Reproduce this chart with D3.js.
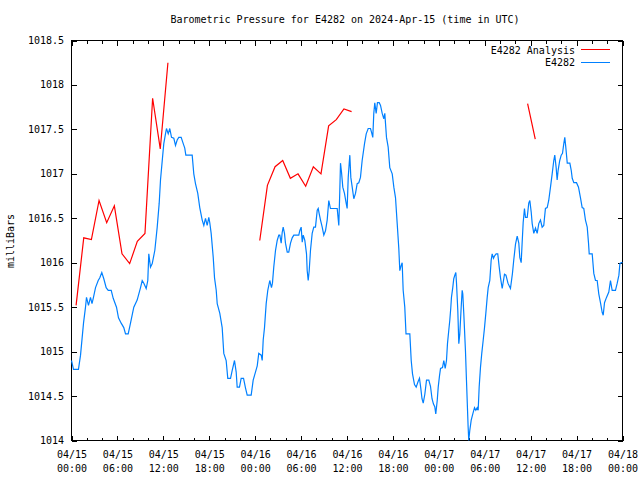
<!DOCTYPE html>
<html>
<head>
<meta charset="utf-8">
<script src="https://cdn.jsdelivr.net/npm/d3@7"></script>
<style>
  html, body { margin: 0; padding: 0; background: #fff; }
  svg { display: block; }
  text { font-family: "DejaVu Sans Mono", "Liberation Mono", monospace; font-size: 10px; fill: #000; }
</style>
</head>
<body>
<svg id="chart" width="640" height="480"></svg>
<script>
// ---- data (hours since 2024-04-15 00:00 UTC, millibars) ----
const titleText = "Barometric Pressure for E4282 on 2024-Apr-15 (time in UTC)";
const yTickValues = [1014, 1014.5, 1015, 1015.5, 1016, 1016.5, 1017, 1017.5, 1018, 1018.5];
const seriesNames = ["E4282 Analysis", "E4282"];

const analysisHours = [0.6, 1.6, 2.6, 3.6, 4.6, 5.6, 6.6, 7.6, 8.6, 9.6, 10.6, 11.6, 12.6, null,
  24.6, 25.6, 26.6, 27.6, 28.6, 29.6, 30.6, 31.6, 32.6, 33.6, 34.6, 35.6, 36.6, null,
  59.6, 60.6];
const analysisValues = [1015.52, 1016.28, 1016.26, 1016.70, 1016.45, 1016.64, 1016.10, 1015.99, 1016.24, 1016.33, 1017.85, 1017.28, 1018.25, null,
  1016.25, 1016.87, 1017.08, 1017.15, 1016.95, 1017.00, 1016.86, 1017.08, 1017.00, 1017.54, 1017.61, 1017.73, 1017.70, null,
  1017.79, 1017.39];

const obsHours = [0, 0.26, 0.91, 1.18, 1.57, 1.83, 1.96, 2.22, 2.48, 2.68, 2.87, 3.14, 3.49, 3.70, 3.96, 4.22, 4.53, 4.80, 5.19, 5.45,
  5.88, 6.14, 6.49, 6.83, 7.06, 7.41, 7.71, 8.14, 8.58, 9.02, 9.24, 9.45, 9.76, 9.97, 10.10, 10.32, 10.55, 10.89, 11.20, 11.46,
  11.63, 11.89, 12.06, 12.28, 12.41, 12.64, 12.84, 13.07, 13.37, 13.59, 13.81, 14.02, 14.33, 14.60, 14.80, 14.94, 15.77, 15.98, 16.20, 16.50,
  16.76, 17.08, 17.29, 17.51, 17.73, 17.94, 18.07, 18.25, 18.52, 18.69, 18.91, 19.04, 19.38, 19.69, 19.90, 20.21, 20.42, 20.78, 21.00, 21.30,
  21.52, 21.65, 21.95, 22.17, 22.48, 22.74, 22.96, 23.48, 23.74, 24.04, 24.27, 24.47, 24.79, 24.92, 25.05, 25.22, 25.44, 25.65, 25.91, 26.13,
  26.26, 26.43, 26.66, 26.88, 27.09, 27.22, 27.40, 27.53, 27.66, 27.83, 27.96, 28.19, 28.39, 28.62, 28.84, 29.05, 29.70, 29.83, 30.01, 30.15,
  30.28, 30.49, 30.71, 30.80, 30.93, 31.06, 31.23, 31.45, 31.66, 31.88, 32.11, 32.24, 32.37, 32.54, 32.76, 32.97, 33.19, 33.41, 33.62, 33.84,
  34.72, 34.93, 35.06, 35.15, 35.28, 35.45, 35.67, 35.89, 36.02, 36.16, 36.29, 36.37, 36.50, 36.68, 36.89, 37.11, 37.33, 37.54, 37.76, 37.98,
  38.29, 38.51, 38.77, 39.07, 39.20, 39.37, 39.50, 39.63, 39.81, 39.98, 40.21, 40.38, 40.60, 40.81, 40.94, 41.16, 41.38, 41.59, 41.91, 42.12,
  42.34, 42.56, 42.77, 42.90, 43.08, 43.21, 43.34, 43.55, 43.71, 44.21, 44.39, 44.56, 44.82, 45.04, 45.28, 45.47, 45.64, 45.80, 45.96, 46.17,
  46.39, 46.69, 46.91, 47.11, 47.30, 47.47, 47.60, 47.79, 47.92, 48.09, 48.22, 48.48, 48.65, 48.83, 49.00, 49.13, 49.30, 49.43, 49.56, 49.65,
  49.82, 49.95, 50.09, 50.22, 50.31, 50.48, 50.61, 50.74, 50.92, 51.05, 51.13, 51.26, 51.48, 51.61, 51.83, 51.91, 52.04, 52.23, 52.44, 52.66,
  52.83, 53.01, 53.14, 53.27, 53.44, 53.61, 53.80, 53.97, 54.14, 54.32, 54.45, 54.66, 54.84, 54.97, 55.14, 55.31, 55.49, 55.70, 55.89, 56.06,
  56.28, 56.58, 56.77, 57.03, 57.36, 57.62, 57.79, 58.02, 58.24, 58.45, 58.58, 58.76, 58.89, 59.02, 59.19, 59.32, 59.55, 59.75, 59.89, 60.07,
  60.20, 60.41, 60.63, 60.85, 61.06, 61.28, 61.50, 61.71, 61.93, 62.16, 62.36, 62.59, 62.81, 63.02, 63.15, 63.33, 63.46, 63.59, 63.80, 63.99,
  64.16, 64.33, 64.46, 64.59, 64.78, 65.12, 65.30, 65.43, 65.64, 65.99, 66.25, 66.51, 66.73, 66.94, 67.16, 67.39, 67.56, 67.65, 68.04, 68.25,
  68.47, 68.69, 68.90, 69.12, 69.35, 69.48, 69.65, 69.91, 70.21, 70.43, 70.65, 71.08, 71.31, 71.53, 71.66, 71.84, 72.00];
const obsValues = [1014.90, 1014.80, 1014.80, 1014.96, 1015.32, 1015.50, 1015.61, 1015.52, 1015.61, 1015.54, 1015.61, 1015.72, 1015.80, 1015.83, 1015.89, 1015.82, 1015.72, 1015.69, 1015.69, 1015.60,
  1015.50, 1015.38, 1015.32, 1015.27, 1015.20, 1015.20, 1015.32, 1015.50, 1015.58, 1015.72, 1015.80, 1015.77, 1015.71, 1015.80, 1016.10, 1015.95, 1015.99, 1016.14, 1016.40, 1016.67,
  1016.93, 1017.18, 1017.34, 1017.45, 1017.51, 1017.45, 1017.51, 1017.41, 1017.40, 1017.32, 1017.38, 1017.41, 1017.41, 1017.34, 1017.29, 1017.21, 1017.21, 1017.00, 1016.89, 1016.78,
  1016.62, 1016.48, 1016.42, 1016.50, 1016.42, 1016.51, 1016.45, 1016.33, 1016.06, 1015.83, 1015.69, 1015.54, 1015.43, 1015.27, 1014.98, 1014.90, 1014.70, 1014.70, 1014.79, 1014.90,
  1014.77, 1014.60, 1014.60, 1014.70, 1014.70, 1014.59, 1014.51, 1014.51, 1014.68, 1014.77, 1014.84, 1014.98, 1014.96, 1014.90, 1015.13, 1015.27, 1015.54, 1015.69, 1015.80, 1015.72,
  1015.77, 1015.95, 1016.14, 1016.25, 1016.31, 1016.31, 1016.22, 1016.34, 1016.40, 1016.33, 1016.22, 1016.12, 1016.12, 1016.22, 1016.28, 1016.31, 1016.31, 1016.36, 1016.40, 1016.23,
  1016.31, 1016.25, 1016.10, 1015.91, 1015.80, 1015.91, 1016.14, 1016.33, 1016.40, 1016.40, 1016.59, 1016.61, 1016.55, 1016.48, 1016.40, 1016.31, 1016.36, 1016.48, 1016.70, 1016.61,
  1016.61, 1016.42, 1016.81, 1017.12, 1017.02, 1016.85, 1016.78, 1016.67, 1016.61, 1016.96, 1017.12, 1017.21, 1016.96, 1016.85, 1016.72, 1016.78, 1016.89, 1016.90, 1016.96, 1017.15,
  1017.34, 1017.45, 1017.51, 1017.51, 1017.47, 1017.41, 1017.68, 1017.80, 1017.68, 1017.80, 1017.80, 1017.77, 1017.68, 1017.62, 1017.68, 1017.41, 1017.30, 1017.07, 1017.00, 1016.85,
  1016.73, 1016.44, 1016.16, 1015.91, 1015.97, 1016.00, 1015.69, 1015.50, 1015.20, 1015.20, 1014.90, 1014.75, 1014.63, 1014.60, 1014.66, 1014.70, 1014.59, 1014.47, 1014.42, 1014.52,
  1014.68, 1014.68, 1014.61, 1014.47, 1014.41, 1014.38, 1014.30, 1014.45, 1014.60, 1014.73, 1014.81, 1014.82, 1014.90, 1014.81, 1014.90, 1015.09, 1015.24, 1015.35, 1015.49, 1015.61,
  1015.72, 1015.82, 1015.86, 1015.89, 1015.77, 1015.46, 1015.09, 1015.20, 1015.50, 1015.69, 1015.65, 1015.43, 1015.01, 1014.68, 1014.15, 1014.00, 1014.11, 1014.23, 1014.30, 1014.37,
  1014.34, 1014.37, 1014.34, 1014.60, 1014.82, 1014.98, 1015.13, 1015.27, 1015.43, 1015.61, 1015.72, 1015.80, 1016.03, 1016.10, 1016.05, 1016.08, 1016.10, 1016.10, 1015.95, 1015.83,
  1015.71, 1015.87, 1015.86, 1015.77, 1015.71, 1015.88, 1016.03, 1016.21, 1016.30, 1016.22, 1016.06, 1016.00, 1016.23, 1016.45, 1016.61, 1016.51, 1016.51, 1016.67, 1016.70, 1016.57,
  1016.44, 1016.33, 1016.39, 1016.33, 1016.44, 1016.48, 1016.40, 1016.42, 1016.61, 1016.62, 1016.70, 1016.85, 1017.00, 1017.15, 1017.21, 1017.07, 1016.93, 1017.04, 1017.15, 1017.21,
  1017.23, 1017.34, 1017.41, 1017.30, 1017.12, 1017.12, 1017.04, 1016.95, 1016.90, 1016.90, 1016.85, 1016.73, 1016.62, 1016.61, 1016.48, 1016.40, 1016.22, 1016.10, 1016.10, 1015.88,
  1015.80, 1015.80, 1015.65, 1015.55, 1015.44, 1015.41, 1015.55, 1015.61, 1015.67, 1015.80, 1015.69, 1015.69, 1015.77, 1015.86, 1015.99, 1016.00, 1016.00];

// ---- drawing ----
const svg = d3.select("#chart");
const margin = { left: 71, right: 622, top: 40, bottom: 440 };
const t0 = Date.UTC(2024, 3, 15, 0, 0);
const toDate = h => new Date(t0 + h * 3600e3);

const x = d3.scaleUtc().domain([toDate(0), toDate(72)]).range([margin.left, margin.right]);
const y = d3.scaleLinear().domain([1014, 1018.5]).range([margin.bottom, margin.top]);

// title
svg.append("text").attr("x", 345).attr("y", 23).attr("text-anchor", "middle").text(titleText);

// y label
svg.append("text").attr("transform", "translate(14,241) rotate(-90)")
  .attr("text-anchor", "middle").text("milliBars");

const g = svg.append("g").attr("shape-rendering", "crispEdges");

// frame
g.append("rect").attr("x", margin.left + 0.5).attr("y", margin.top + 0.5)
  .attr("width", margin.right - margin.left).attr("height", margin.bottom - margin.top)
  .attr("fill", "none").attr("stroke", "#000").attr("stroke-width", 1);

// y ticks (inward, mirrored)
const yAxisL = d3.axisRight(y).tickValues(yTickValues).tickSize(5).tickFormat("");
const yAxisR = d3.axisLeft(y).tickValues(yTickValues).tickSize(5).tickFormat("");
const gl = g.append("g").attr("transform", `translate(${margin.left + 0.5},0.5)`).call(yAxisL);
const gr = g.append("g").attr("transform", `translate(${margin.right + 0.5},0.5)`).call(yAxisR);
[gl, gr].forEach(a => a.select(".domain").remove());
// y tick labels
svg.append("g").selectAll("text").data(yTickValues).join("text")
  .attr("x", 64).attr("y", d => y(d) + 4).attr("text-anchor", "end")
  .text(d => d3.format("")(d));

// x ticks: minor every 2 hours, major every 6 hours
const minorTicks = x.ticks(d3.utcHour.every(2));
const majorTicks = x.ticks(d3.utcHour.every(6));
const xb = g.append("g").attr("transform", `translate(0.5,${margin.bottom + 0.5})`);
xb.call(d3.axisTop(x).tickValues(minorTicks).tickSize(3).tickFormat(""));
xb.append("g").call(d3.axisTop(x).tickValues(majorTicks).tickSize(5).tickFormat(""));
const xt = g.append("g").attr("transform", `translate(0.5,${margin.top + 0.5})`);
xt.call(d3.axisBottom(x).tickValues(minorTicks).tickSize(3).tickFormat(""));
xt.append("g").call(d3.axisBottom(x).tickValues(majorTicks).tickSize(5).tickFormat(""));
g.selectAll(".domain").remove();
g.selectAll(".tick line").attr("stroke", "#000");

// x tick labels (two lines)
const fmtD = d3.utcFormat("%m/%d"), fmtT = d3.utcFormat("%H:%M");
const xl = svg.append("g").selectAll("g").data(majorTicks).join("g");
xl.append("text").attr("x", d => x(d) + 1).attr("y", 458).attr("text-anchor", "middle").text(d => fmtD(d));
xl.append("text").attr("x", d => x(d) + 1).attr("y", 472).attr("text-anchor", "middle").text(d => fmtT(d));

// lines
const analysisData = analysisHours.map((h, i) => ({ h, v: analysisValues[i] }));
const obsData = obsHours.map((h, i) => ({ h, v: obsValues[i] }));
const line = d3.line()
  .defined(d => d.h != null && d.v != null)
  .x(d => x(toDate(d.h)) + 0.5)
  .y(d => y(d.v) + 0.5);

const colors = ["#ff0000", "#0080ff"];
svg.append("path").datum(analysisData).attr("d", line)
  .attr("fill", "none").attr("stroke", colors[0]).attr("stroke-width", 1.2);
svg.append("path").datum(obsData).attr("d", line)
  .attr("fill", "none").attr("stroke", colors[1]).attr("stroke-width", 1.2);

// legend
const leg = svg.append("g").selectAll("g").data(seriesNames).join("g")
  .attr("transform", (d, i) => `translate(0,${50 + i * 12.5})`);
leg.append("text").attr("x", 575).attr("y", 3.5).attr("text-anchor", "end").text(d => d);
leg.append("line").attr("x1", 581).attr("x2", 610).attr("y1", -0.5).attr("y2", -0.5)
  .attr("stroke", (d, i) => colors[i]).attr("stroke-width", 1).attr("shape-rendering", "crispEdges");
</script>
</body>
</html>
